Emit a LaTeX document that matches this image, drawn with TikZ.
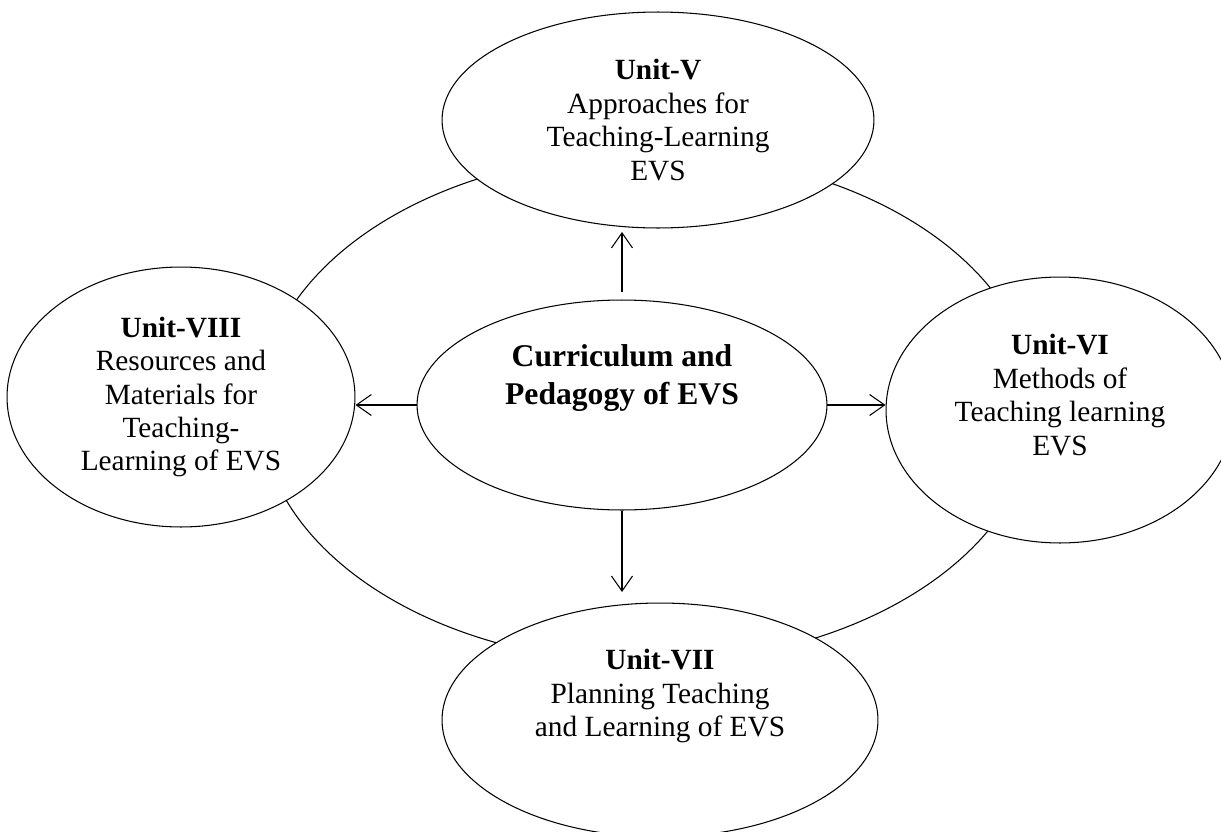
\documentclass[tikz,border=0pt]{standalone}
\usepackage{fontspec}
\setmainfont{Liberation Serif}
\usetikzlibrary{arrows.meta, shapes.geometric}

\tikzset{
  unit/.style={ellipse, draw=black, fill=white, inner sep=0pt},
  unittext/.style={align=center, font=\fontsize{16.7}{19}\selectfont},
  arrow/.style={-{Straight Barb[length=3mm, width=4.2mm]}}
}

\begin{document}
\begin{tikzpicture}[x=0.02cm, y=-0.02cm, line width=0.6pt]
  \useasboundingbox (0, 0) rectangle (1221, 832);

  % ring behind the units
  \draw (648, 408) ellipse [x radius=7.76cm, y radius=5.1cm];

  \node[unit, minimum width=8.64cm, minimum height=4.32cm,
    label={[unittext]center:{\textbf{Unit-V}\\Approaches for\\Teaching-Learning\\EVS}}] (unitv) at (658, 120) {};
  \node[unit, minimum width=6.96cm, minimum height=5.2cm,
    label={[unittext]center:{\textbf{Unit-VIII}\\Resources and\\Materials for\\Teaching-\\Learning of EVS}}] (unitviii) at (181, 397) {};
  \node[unit, minimum width=6.96cm, minimum height=5.32cm,
    label={[unittext, yshift=0.3cm]center:{\textbf{Unit-VI}\\Methods of\\Teaching learning\\EVS}}] (unitvi) at (1060, 410) {};
  \node[unit, minimum width=8.72cm, minimum height=4.68cm,
    label={[unittext, yshift=0.48cm]center:{\textbf{Unit-VII}\\Planning Teaching\\and Learning of EVS}}] (unitvii) at (660, 720) {};
  \node[unit, minimum width=8.2cm, minimum height=4.2cm,
    label={[unittext, font=\fontsize{18}{22}\selectfont\bfseries, yshift=0.54cm]center:{Curriculum and\\Pedagogy of EVS}}] (core) at (622, 405) {};

  \draw[arrow, shorten <=4pt, shorten >=2pt] (core.north) -- (core.north |- unitv.south);
  \draw[arrow, shorten >=6pt] (core.south) -- (core.south |- unitvii.north);
  \draw[arrow] (core.west) -- (core.west -| unitviii.east);
  \draw[arrow] (core.east) -- (core.east -| unitvi.west);
\end{tikzpicture}
\end{document}
